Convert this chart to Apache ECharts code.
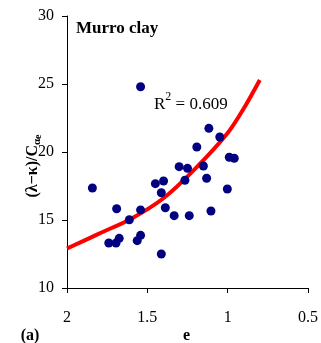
<!DOCTYPE html>
<html><head><meta charset="utf-8">
<script src="https://cdn.jsdelivr.net/npm/echarts@6/dist/echarts.min.js"></script>
<style>html,body{margin:0;padding:0;background:#fff}#c{width:321px;height:343px}</style>
</head><body><div id="c"></div>
<script>
// Measured points: void ratio e and (λ−κ)/Cαe
const voidRatio = [1.542, 1.117, 1.049, 1.192, 1.302, 1.250, 1.151, 0.990, 0.959, 1.842,
  1.450, 1.399, 1.266, 1.131, 1.413, 1.002, 1.691, 1.542, 1.388, 1.333,
  1.239, 1.104, 1.612, 1.740, 1.695, 1.675, 1.563, 1.542, 1.413];
const ratioValue = [24.8, 21.74, 21.1, 20.37, 18.92, 18.8, 18.97, 19.61, 19.54, 17.35,
  17.67, 17.87, 17.92, 18.07, 17.0, 17.28, 15.83, 15.74, 15.9, 15.32,
  15.32, 15.66, 15.02, 13.31, 13.31, 13.65, 13.48, 13.87, 12.5];
// Fitted curve
const fitE = [2.0, 1.8, 1.6, 1.4, 1.2, 1.0, 0.9, 0.8];
const fitRatio = [12.9, 14.0, 15.1, 16.6, 18.8, 21.4, 23.2, 25.3];

const serif = 'Liberation Serif';
const chart = echarts.init(document.getElementById('c'), null, {renderer: 'canvas'});
chart.setOption({
  animation: false,
  backgroundColor: '#fff',
  grid: {left: 67, right: 10, top: 16, bottom: 55},
  xAxis: {
    type: 'value', inverse: true, min: 0.5, max: 2, interval: 0.5,
    axisLine: {show: true, onZero: false, lineStyle: {color: '#000', width: 1}},
    axisTick: {show: true, inside: false, length: 5, lineStyle: {color: '#000'}},
    axisLabel: {fontFamily: serif, fontSize: 16, color: '#000', margin: 22},
    splitLine: {show: false}
  },
  yAxis: {
    type: 'value', min: 10, max: 30, interval: 5,
    axisLine: {show: true, lineStyle: {color: '#000', width: 1}},
    axisTick: {show: true, inside: false, length: 5, lineStyle: {color: '#000'}},
    axisLabel: {fontFamily: serif, fontSize: 16, color: '#000', margin: 13},
    splitLine: {show: false}
  },
  series: [
    {
      type: 'line', data: fitE.map((e, i) => [e, fitRatio[i]]),
      showSymbol: false, smooth: 0.3,
      lineStyle: {color: '#ff0000', width: 4}, z: 2
    },
    {
      type: 'scatter', data: voidRatio.map((e, i) => [e, ratioValue[i]]),
      symbolSize: 9, itemStyle: {color: '#000080', opacity: 1}, z: 3
    }
  ],
  graphic: [
    {type: 'text', left: 76, top: 20, style: {text: 'Murro clay', font: 'bold 17px ' + serif, fill: '#000'}},
    {type: 'text', x: 154, y: 102, style: {
      text: '{r|R}{s|2}{r| = 0.609}', verticalAlign: 'middle',
      rich: {
        r: {fontFamily: serif, fontSize: 17, lineHeight: 22, fill: '#000', verticalAlign: 'bottom'},
        s: {fontFamily: serif, fontSize: 12, lineHeight: 12, fill: '#000', verticalAlign: 'top'}
      }}},
    {type: 'text', x: 30, y: 336, style: {text: '(a)', font: 'bold 16px ' + serif, fill: '#000', align: 'center', verticalAlign: 'middle'}},
    {type: 'text', x: 186.5, y: 336, style: {text: 'e', font: 'bold 16px ' + serif, fill: '#000', align: 'center', verticalAlign: 'middle'}},
    {type: 'text', x: 33, y: 166, rotation: Math.PI / 2, style: {
      text: '{m|(λ−κ)/C}{s|α}{t|e}', align: 'center', verticalAlign: 'middle',
      rich: {
        m: {fontFamily: serif, fontWeight: 'bold', fontSize: 16, lineHeight: 20, fill: '#000', verticalAlign: 'middle'},
        s: {fontFamily: serif, fontWeight: 'bold', fontSize: 11, lineHeight: 11, fill: '#000', verticalAlign: 'bottom'},
        t: {fontFamily: serif, fontWeight: 'bold', fontSize: 10, lineHeight: 16, fill: '#000', verticalAlign: 'bottom'}
      }}}
  ]
});
</script></body></html>
